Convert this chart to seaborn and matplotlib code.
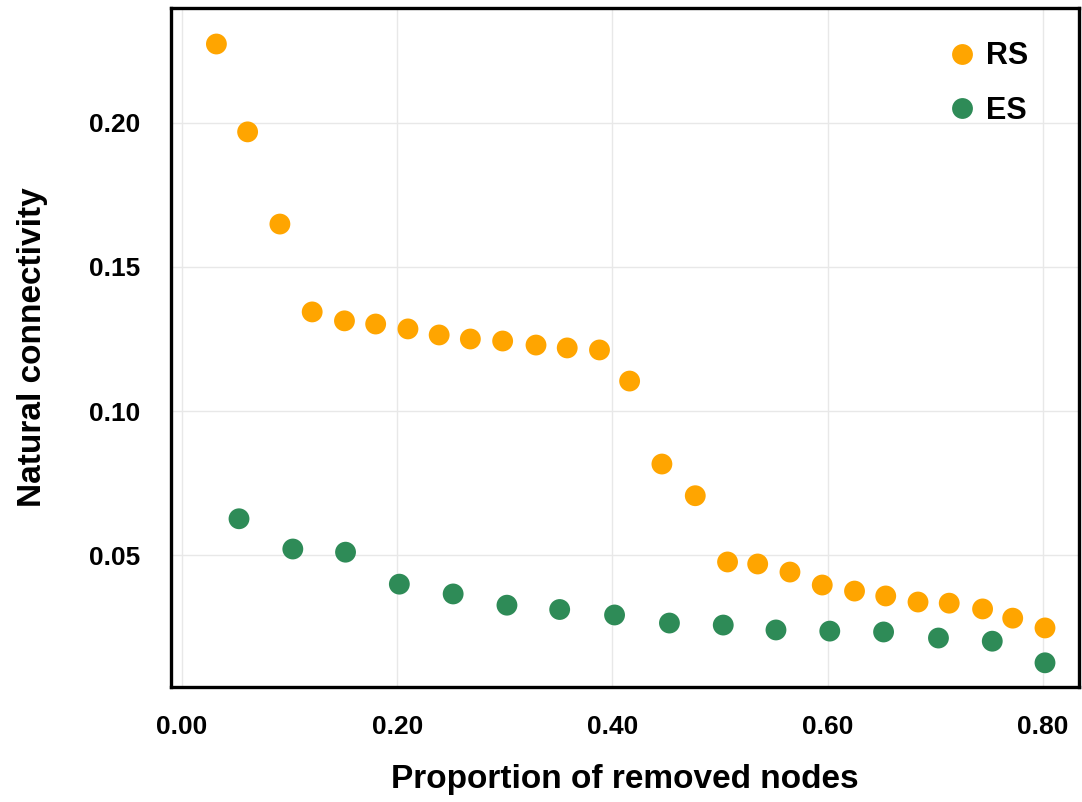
import numpy as np
import pandas as pd
import matplotlib
matplotlib.use("Agg")
import matplotlib.pyplot as plt
import seaborn as sns
from matplotlib.lines import Line2D
from matplotlib.ticker import FormatStrFormatter

# ---- data ----
rs_x = [0.032, 0.061, 0.091, 0.121, 0.151, 0.180, 0.210, 0.239, 0.268, 0.298,
        0.329, 0.358, 0.388, 0.416, 0.446, 0.477, 0.507, 0.535, 0.565, 0.595,
        0.625, 0.654, 0.684, 0.713, 0.744, 0.772, 0.802]
rs_y = [0.2274, 0.1969, 0.1649, 0.1344, 0.1313, 0.1302, 0.1285, 0.1264, 0.1250, 0.1243,
        0.1229, 0.1219, 0.1212, 0.1104, 0.0816, 0.0706, 0.0476, 0.0469, 0.0441, 0.0396,
        0.0375, 0.0358, 0.0337, 0.0333, 0.0313, 0.0281, 0.0247]
es_x = [0.053, 0.103, 0.152, 0.202, 0.252, 0.302, 0.351, 0.402, 0.453, 0.503,
        0.552, 0.602, 0.652, 0.703, 0.753, 0.802]
es_y = [0.0626, 0.0521, 0.0510, 0.0399, 0.0365, 0.0326, 0.0311, 0.0292, 0.0264, 0.0257,
        0.0240, 0.0236, 0.0233, 0.0212, 0.0201, 0.0126]
series_names = ["RS", "ES"]
x_ticks = [0.0, 0.2, 0.4, 0.6, 0.8]
y_ticks = [0.05, 0.10, 0.15, 0.20]
x_label = "Proportion of removed nodes"
y_label = "Natural connectivity"

colors = {"RS": "#FFA500", "ES": "#2E8B57"}

df = pd.concat([
    pd.DataFrame({"x": rs_x, "y": rs_y, "series": "RS"}),
    pd.DataFrame({"x": es_x, "y": es_y, "series": "ES"}),
], ignore_index=True)

sns.set_theme(style="whitegrid")
plt.rcParams["font.family"] = ["Liberation Sans", "DejaVu Sans"]
plt.rcParams["font.weight"] = "bold"
plt.rcParams["text.color"] = "black"

fig = plt.figure(figsize=(10.82, 8.02), dpi=100)
ax = fig.add_axes([171 / 1082, 1 - 687 / 802, (1079 - 171) / 1082, (687 - 8) / 802])

sns.scatterplot(data=df, x="x", y="y", hue="series", palette=colors,
                s=225, linewidth=0, legend=False, ax=ax, zorder=3)

ax.set_xlim(-0.0102, 0.8336)
ax.set_ylim(0.0042, 0.2399)
ax.set_xticks(x_ticks)
ax.set_yticks(y_ticks)
ax.xaxis.set_major_formatter(FormatStrFormatter("%.2f"))
ax.yaxis.set_major_formatter(FormatStrFormatter("%.2f"))

ax.grid(True, color="#E8E8E8", linewidth=1.0)
ax.set_axisbelow(True)
for sp in ax.spines.values():
    sp.set_visible(True)
    sp.set_color("black")
    sp.set_linewidth(2.4)

ax.tick_params(axis="both", which="major", direction="out", length=7, width=2.4,
               color="black", labelsize=19, labelcolor="black")
ax.tick_params(axis="y", pad=15)
ax.tick_params(axis="x", pad=13)
for lab in ax.get_xticklabels() + ax.get_yticklabels():
    lab.set_fontweight("bold")

ax.set_xlabel(x_label, fontsize=24, fontweight="bold", color="black", labelpad=18)
ax.set_ylabel(y_label, fontsize=24, fontweight="bold", color="black", labelpad=30)

handles = [Line2D([0], [0], marker="o", linestyle="none", markersize=15,
                  markerfacecolor=colors[n], markeredgewidth=0) for n in series_names]
leg = ax.legend(handles, series_names, loc="upper right", frameon=False,
                prop={"size": 22, "weight": "bold"}, handlelength=1.0, handletextpad=0.3,
                labelspacing=0.8, borderaxespad=0.3, labelcolor="black",
                bbox_to_anchor=(1050 / 1082, 1 - 20 / 802), bbox_transform=fig.transFigure)

fig.savefig("out.png", dpi=100)
